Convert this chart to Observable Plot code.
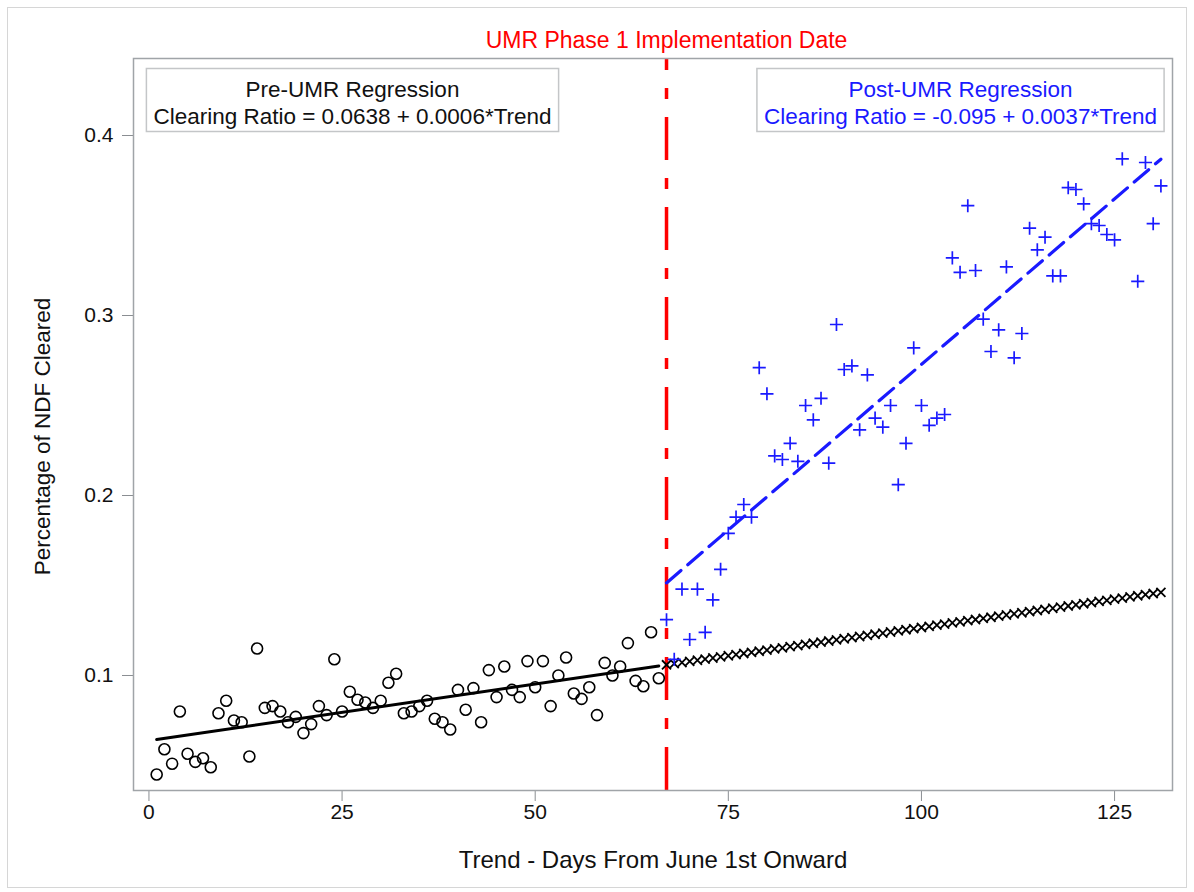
<!DOCTYPE html>
<html><head><meta charset="utf-8">
<script src="https://cdn.jsdelivr.net/npm/d3@7"></script>
<script src="https://cdn.jsdelivr.net/npm/@observablehq/plot@0.6"></script>
<style>body{margin:0;background:#fff;}</style>
</head><body><div id="chart"></div>
<script>
const preTrend = [1,2,3,4,5,6,7,8,9,10,11,12,13,14,15,16,17,18,19,20,21,22,23,24,25,26,27,28,29,30,31,32,33,34,35,36,37,38,39,40,41,42,43,44,45,46,47,48,49,50,51,52,53,54,55,56,57,58,59,60,61,62,63,64,65,66];
const preRatio = [0.045,0.059,0.051,0.080,0.0565,0.052,0.054,0.049,0.079,0.086,0.075,0.074,0.055,0.115,0.082,0.083,0.080,0.074,0.077,0.068,0.073,0.083,0.078,0.109,0.080,0.091,0.0865,0.085,0.082,0.086,0.096,0.101,0.079,0.080,0.083,0.086,0.076,0.074,0.070,0.092,0.081,0.093,0.074,0.103,0.088,0.105,0.092,0.088,0.108,0.0935,0.108,0.083,0.100,0.110,0.090,0.087,0.0935,0.078,0.107,0.100,0.105,0.118,0.097,0.094,0.124,0.0985];
const postTrend = [67,68,69,70,71,72,73,74,75,76,77,78,79,80,81,82,83,84,85,86,87,88,89,90,91,92,93,94,95,96,97,98,99,100,101,102,103,104,105,106,107,108,109,110,111,112,113,114,115,116,117,118,119,120,121,122,123,124,125,126,127,128,129,130,131];
const postRatio = [0.131,0.109,0.148,0.120,0.148,0.124,0.142,0.159,0.179,0.188,0.195,0.188,0.271,0.2565,0.222,0.220,0.229,0.219,0.250,0.242,0.254,0.218,0.295,0.270,0.272,0.2365,0.267,0.243,0.238,0.250,0.206,0.229,0.282,0.250,0.239,0.243,0.245,0.332,0.324,0.361,0.325,0.298,0.280,0.292,0.327,0.2765,0.290,0.3485,0.3365,0.3435,0.322,0.322,0.371,0.370,0.362,0.351,0.350,0.345,0.342,0.387,0.433,0.319,0.385,0.351,0.372];
const implementationTrend = 67;
const xTicks = [0,25,50,75,100,125];
const yTicks = [0.1,0.2,0.3,0.4];
const yTickLabels = ["0.1","0.2","0.3","0.4"];
const titleText = "UMR Phase 1 Implementation Date";
const preLabel = "Pre-UMR Regression\nClearing Ratio = 0.0638 + 0.0006*Trend";
const postLabel = "Post-UMR Regression\nClearing Ratio = -0.095 + 0.0037*Trend";
const xLabel = "Trend - Days From June 1st Onward";
const yLabel = "Percentage of NDF Cleared";

function fit(xs, ys) {
  const mx = d3.mean(xs), my = d3.mean(ys);
  let sxy = 0, sxx = 0;
  xs.forEach((x, i) => { sxy += (x - mx) * (ys[i] - my); sxx += (x - mx) * (x - mx); });
  const b = sxy / sxx, a = my - b * mx;
  return t => a + b * t;
}
const pre = preTrend.map((t, i) => ({trend: t, ratio: preRatio[i]}));
const post = postTrend.map((t, i) => ({trend: t, ratio: postRatio[i]}));
const preFit = fit(preTrend, preRatio);
const postFit = fit(postTrend, postRatio);
const preLine = d3.extent(preTrend).map(t => ({trend: t, ratio: preFit(t)}));
const postLine = d3.extent(postTrend).map(t => ({trend: t, ratio: postFit(t)}));
const counterfactual = postTrend.map(t => ({trend: t, ratio: preFit(t)}));

const FONT = "'Liberation Sans', Arial, sans-serif";
const plot = Plot.plot({
  width: 1194, height: 892,
  marginLeft: 133, marginRight: 22, marginTop: 58, marginBottom: 102,
  style: {fontFamily: FONT, fontSize: "21px", background: "white", color: "black"},
  x: {domain: [-2, 132.5]},
  y: {domain: [0.03611, 0.44278]},
  marks: [
    Plot.axisX({ticks: xTicks, tickSize: 11, tickPadding: 3, label: null, stroke: "#8a8e92", fill: "#111"}),
    Plot.axisY({ticks: yTicks, tickFormat: d => yTickLabels[yTicks.indexOf(d)], tickSize: 11, tickPadding: 9, label: null, stroke: "#8a8e92", fill: "#111"}),
    Plot.ruleX([implementationTrend], {x: d => d, stroke: "#ff0000", strokeWidth: 3.5, strokeDasharray: "43,18,11,18", strokeDashoffset: 31}),
    Plot.dot(pre, {x: "trend", y: "ratio", symbol: "circle", r: 5.5, stroke: "black", strokeWidth: 1.6, fill: "none"}),
    Plot.line(preLine, {x: "trend", y: "ratio", stroke: "black", strokeWidth: 3}),
    Plot.dot(counterfactual, {x: "trend", y: "ratio", symbol: "times", r: 4.2, stroke: "black", strokeWidth: 1.8}),
    Plot.dot(post, {x: "trend", y: "ratio", symbol: "plus", r: 4.3, stroke: "#1a1aff", strokeWidth: 1.7}),
    Plot.line(postLine, {x: "trend", y: "ratio", stroke: "#1a1aff", strokeWidth: 3.2, strokeDasharray: "19,9"}),
    Plot.frame({stroke: "#a0a4a8", strokeWidth: 1.5}),
    Plot.text([titleText], {x: () => implementationTrend, text: d => d, frameAnchor: "top", lineAnchor: "middle", dy: -18, fill: "#ff0000", fontSize: 23}),
    Plot.text([preLabel], {text: d => d, frameAnchor: "top-left", lineAnchor: "middle", dx: 219, dy: 43.5, textAnchor: "middle", lineHeight: 1.2, fill: "#111", fontSize: 22.5, className: "legendbox"}),
    Plot.text([postLabel], {text: d => d, frameAnchor: "top-right", lineAnchor: "middle", dx: -212, dy: 43.5, textAnchor: "middle", lineHeight: 1.2, fill: "#1a1aff", fontSize: 22.5, className: "legendbox"}),
    Plot.text([xLabel], {text: d => d, frameAnchor: "bottom", lineAnchor: "middle", dy: 70, fill: "#111", fontSize: 24}),
    Plot.text([yLabel], {text: d => d, frameAnchor: "left", lineAnchor: "middle", textAnchor: "middle", dx: -91, dy: 12, rotate: -90, fill: "#111", fontSize: 22.5})
  ]
});
document.getElementById("chart").appendChild(plot);
const svgRect = plot.getBoundingClientRect();
d3.select(plot).selectAll("g.legendbox").each(function() {
  const bb = this.getBoundingClientRect();
  const x0 = bb.left - svgRect.left, y0 = bb.top - svgRect.top;
  d3.select(plot).insert("rect", () => this)
    .attr("x", x0 - 7).attr("y", 68.5)
    .attr("width", bb.width + 14).attr("height", 63)
    .attr("fill", "white").attr("stroke", "#c4c6c8").attr("stroke-width", 1.5);
});
d3.select(plot).append("rect").attr("x", 7.5).attr("y", 7.5).attr("width", 1179).attr("height", 880)
  .attr("fill", "none").attr("stroke", "#d6d6d6").attr("stroke-width", 1);
</script>
</body></html>
